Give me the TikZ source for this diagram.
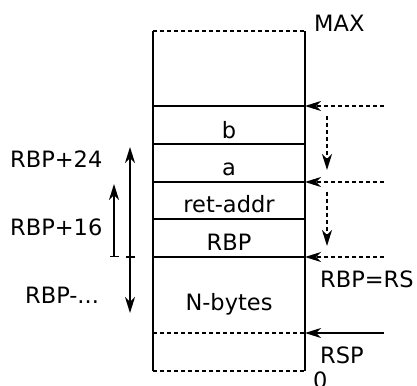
\documentclass[tikz,border=0pt]{standalone}
\usepackage{fontspec}
\setmainfont{DejaVu Sans}
\usetikzlibrary{arrows.meta}

\tikzset{
  wall/.style={line width=2pt},
  gap/.style={wall,dash pattern=on 4pt off 3pt},
  ptr/.style={line width=2pt,-{Stealth[length=16pt,width=10pt,inset=5pt]}},
  lbl/.style={font=\fontsize{22.5}{26}\selectfont,inner sep=0pt},
  span/.style={line width=1.8pt,{Bar[width=9pt,line width=1pt]}-{Stealth[length=16pt,width=10pt,inset=5pt]}}
}

\begin{document}
\begin{tikzpicture}[x=1pt,y=-1pt]
\useasboundingbox (0,0) rectangle (417,385);
\clip (0,0) rectangle (417,385);

% levels of the stack (right edge)
\coordinate (top) at (305,31);
\coordinate (lb) at (305,106);
\coordinate (la) at (305,144);
\coordinate (lret) at (305,182);
\coordinate (lrbp) at (305,219);
\coordinate (lbase) at (305,257);
\coordinate (lrsp) at (305,333);
\coordinate (bot) at (305,371);

% stack frame
\draw[wall] (153,31) -- (153,371);
\draw[wall] (top) -- (bot);
\draw[gap] (153,31) -- (top);
\foreach \l in {lb,la,lret,lrbp,lbase}
  \draw[wall] (153,0 |- \l) -- (\l);
\draw[gap] (153,0 |- lrsp) -- (lrsp);
\draw[gap] (153,0 |- bot) -- (bot);

% cell texts
\node[lbl,anchor=base] (cb) at (229,138) {b};
\node[lbl,anchor=base] (ca) at (229,175) {a};
\node[lbl,anchor=base] (cret) at (229,212) {ret-addr};
\node[lbl,anchor=base] (crbp) at (229,250) {RBP};
\node[lbl,anchor=base] (cn) at (229,310) {N-bytes};

% right labels
\node[lbl,anchor=base west] (max) at (314,32) {MAX};
\node[lbl,anchor=base west] (eq) at (320,287) {RBP=RS};
\node[lbl,anchor=base west] (rsp) at (320,363) {RSP};
\node[lbl,anchor=base west] (zero) at (313,388) {0};

% frame pointer moves
\coordinate (p1) at (384,106);
\coordinate (p2) at (384,182);
\coordinate (p3) at (384,257);
\coordinate (p4) at (384,333);
\draw[ptr,gap] (p1) -- (lb);
\draw[ptr,gap] (p2) -- (lret);
\draw[ptr,gap] (p3) -- (lbase);
\draw[ptr] (p4) -- (lrsp);
\coordinate (d1) at (327,116);
\coordinate (e1) at (327,170);
\coordinate (d2) at (327,192);
\coordinate (e2) at (327,246);
\draw[ptr,gap] (d1) -- (e1);
\draw[ptr,gap] (d2) -- (e2);

% offsets from RBP
\coordinate (o0) at (130,257);
\coordinate (o24) at (130,147);
\coordinate (om) at (130,313);
\coordinate (s0) at (114,257);
\coordinate (s16) at (114,184);
\draw[span] (o0) -- (o24);
\draw[span] (o0) -- (om);
\draw[span] (s0) -- (s16);
\node[lbl,anchor=base west] (t24) at (10,167) {RBP+24};
\node[lbl,anchor=base west] (t16) at (10,235) {RBP+16};
\node[lbl,anchor=base west] (tm) at (25,303) {RBP-...};
\end{tikzpicture}
\end{document}
